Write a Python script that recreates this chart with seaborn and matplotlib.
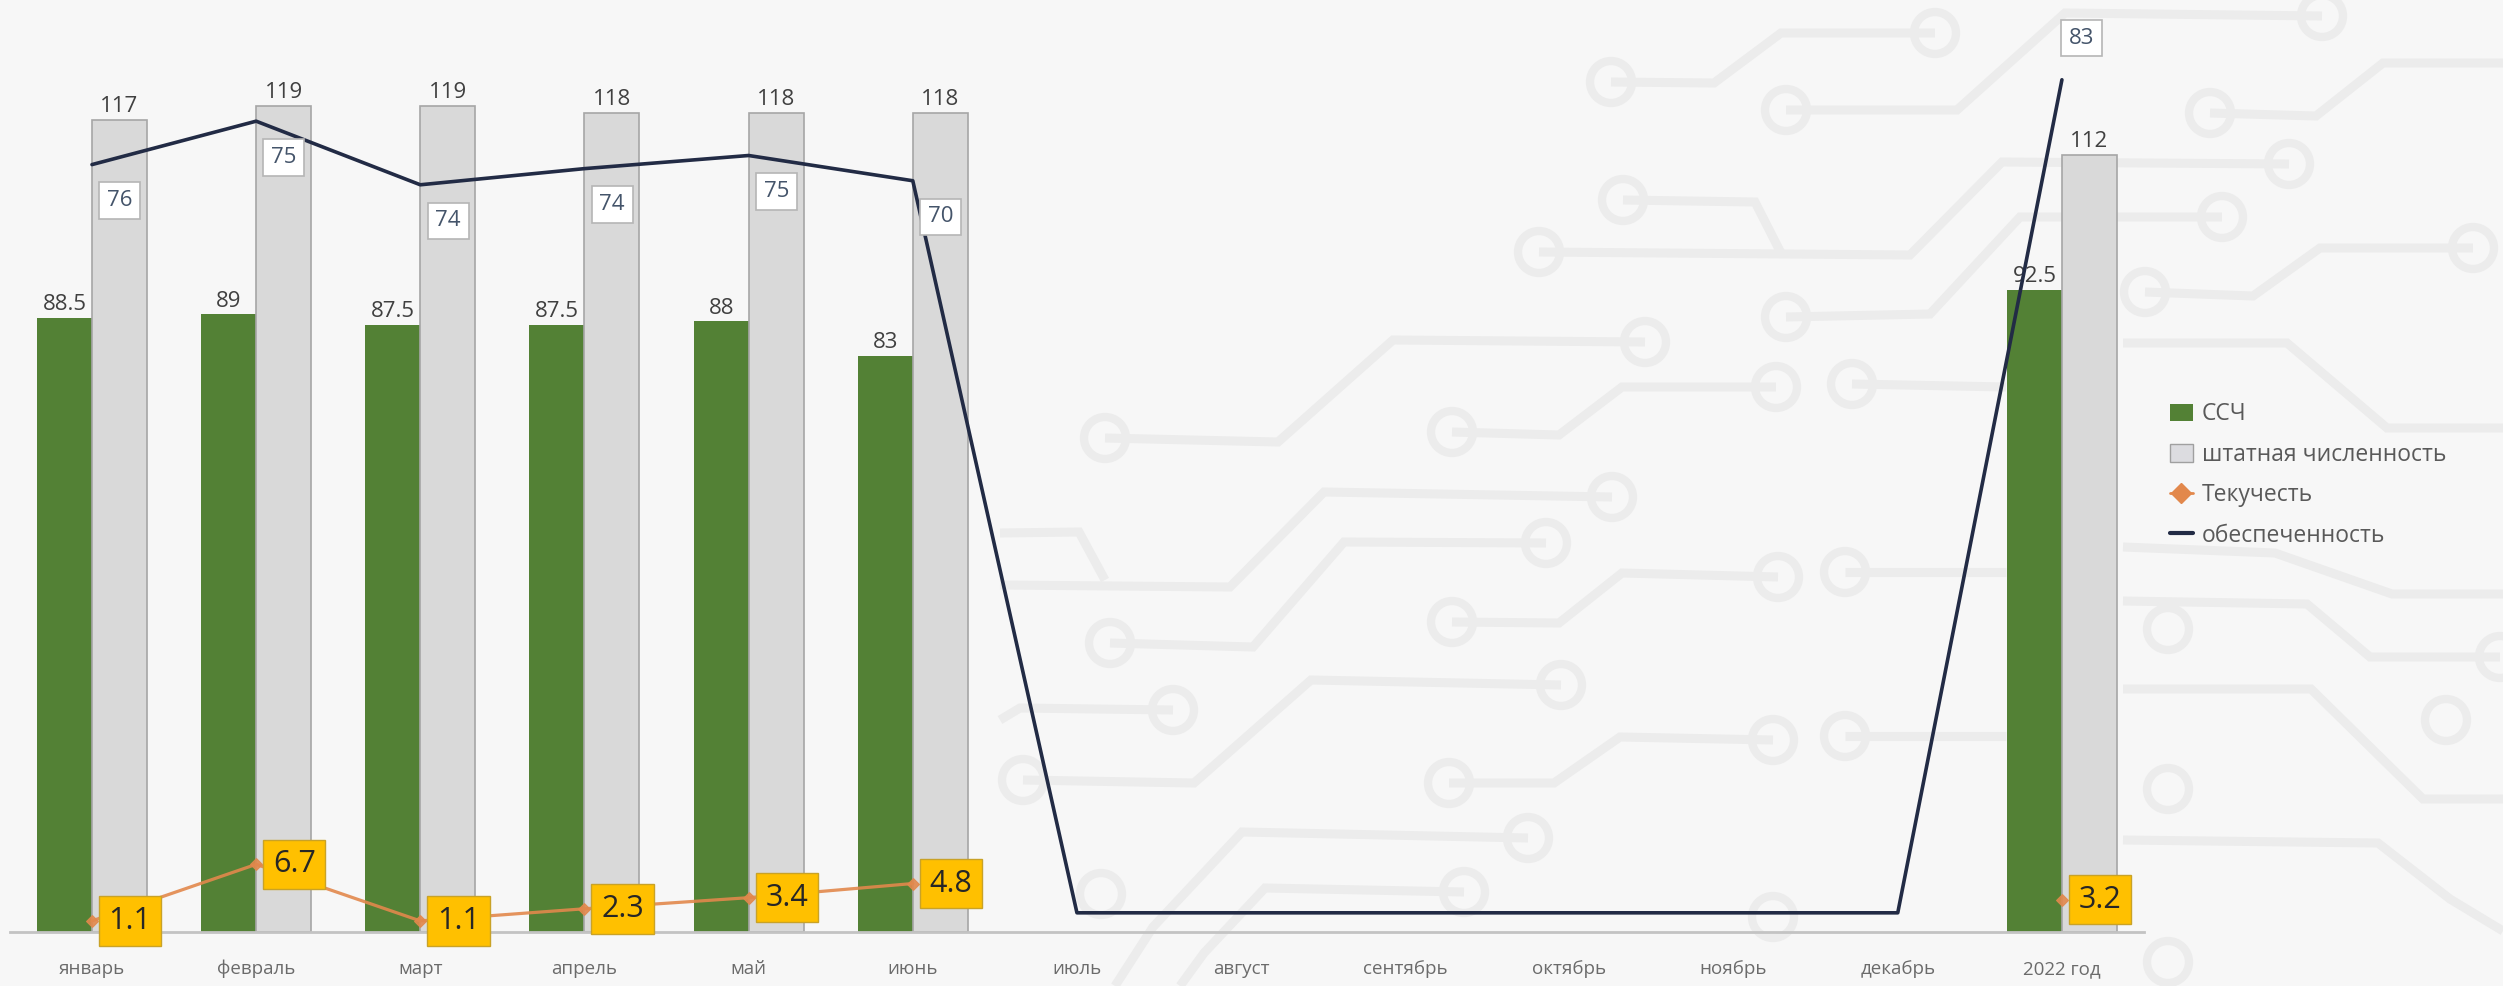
import numpy as np
import pandas as pd
import matplotlib
matplotlib.use('Agg')
import matplotlib.pyplot as plt
import seaborn as sns
from matplotlib.patches import Patch, Circle
from matplotlib.lines import Line2D

# данные
months = ['январь', 'февраль', 'март', 'апрель', 'май', 'июнь', 'июль',
          'август', 'сентябрь', 'октябрь', 'ноябрь', 'декабрь', '2022 год']
ssch = [88.5, 89, 87.5, 87.5, 88, 83, np.nan, np.nan, np.nan, np.nan, np.nan, np.nan, 92.5]
shtat = [117, 119, 119, 118, 118, 118, np.nan, np.nan, np.nan, np.nan, np.nan, np.nan, 112]
tekuch = [1.1, 6.7, 1.1, 2.3, 3.4, 4.8, np.nan, np.nan, np.nan, np.nan, np.nan, np.nan, 3.2]
obesp = [76.0, 80.3, 74.0, 75.6, 76.9, 74.4, 1.9, 1.9, 1.9, 1.9, 1.9, 1.9, 84.4]
obesp_labels = ['76', '75', '74', '74', '75', '70', '', '', '', '', '', '', '83']

series_names = ['ССЧ', 'штатная численность', 'Текучесть', 'обеспеченность']

GREEN = '#538135'
GREY = '#d9d9d9'
ORANGE = '#e2884c'
NAVY = '#222b45'
BG = '#f7f7f7'
WIRE = '#ececec'

# фоновый "печатный" узор
wires = [
    [(1611, 82), (1714, 83), (1781, 33), (1935, 33)],
    [(1786, 110), (1957, 110), (2065, 13), (2322, 16)],
    [(1623, 200), (1755, 202), (1781, 253)],
    [(1539, 252), (1910, 255), (2002, 162), (2289, 164)],
    [(1786, 317), (1930, 314), (2020, 217), (2222, 217)],
    [(2210, 113), (2316, 116), (2383, 63), (2503, 63)],
    [(2145, 292), (2253, 296), (2320, 248), (2473, 248)],
    [(2123, 343), (2287, 343), (2387, 428), (2503, 428)],
    [(1105, 438), (1278, 442), (1393, 340), (1645, 342)],
    [(1452, 432), (1559, 435), (1622, 387), (1776, 387)],
    [(1852, 384), (2006, 387)],
    [(1612, 497), (1324, 492), (1230, 587), (1000, 585)],
    [(1000, 533), (1079, 532), (1105, 580)],
    [(1546, 543), (1344, 542), (1253, 647), (1110, 643)],
    [(1778, 577), (1622, 573), (1559, 623), (1452, 622)],
    [(1561, 685), (1311, 680), (1194, 783), (1023, 780)],
    [(1173, 710), (1020, 708), (1000, 720)],
    [(1773, 740), (1620, 737), (1554, 783), (1449, 783)],
    [(1528, 838), (1242, 832), (1153, 927), (1115, 986)],
    [(1464, 892), (1265, 888), (1204, 953), (1180, 986)],
    [(1845, 572), (2006, 572)],
    [(2123, 547), (2275, 553), (2392, 594), (2503, 594)],
    [(2500, 657), (2370, 657), (2307, 604), (2123, 601)],
    [(2123, 689), (2311, 689), (2423, 799), (2503, 799)],
    [(1845, 736), (2006, 736)],
    [(2123, 840), (2378, 843), (2450, 899), (2503, 931)],
]
rings = [(1611, 82), (1935, 33), (1786, 110), (2322, 16), (1623, 200), (1539, 252),
         (2289, 164), (1786, 317), (2222, 217), (2210, 113), (2145, 292), (2473, 248),
         (1105, 438), (1645, 342), (1452, 432), (1776, 387), (1852, 384), (1612, 497),
         (1546, 543), (1110, 643), (1778, 577), (1452, 622), (1561, 685), (1023, 780),
         (1173, 710), (1773, 740), (1449, 783), (1528, 838), (1464, 892), (1773, 917),
         (1845, 572), (2500, 657), (2446, 720), (2168, 629), (1845, 736), (2168, 789),
         (2168, 962), (1101, 894)]

sns.set_style('white')
plt.rcParams['font.family'] = ['Open Sans', 'DejaVu Sans']

fig = plt.figure(figsize=(25.03, 9.86), dpi=100, facecolor=BG)

# фон
bg = fig.add_axes([0, 0, 1, 1], zorder=-1)
bg.set_xlim(0, 2503)
bg.set_ylim(986, 0)
bg.axis('off')
for w in wires:
    xs, ys = zip(*w)
    bg.plot(xs, ys, color=WIRE, lw=6.5, solid_joinstyle='miter', solid_capstyle='butt')
for (cx, cy) in rings:
    bg.add_patch(Circle((cx, cy), 21, fc=BG, ec=WIRE, lw=6))

ax = fig.add_axes([9.9 / 2503, 54 / 986, (2144 - 9.9) / 2503, 932 / 986])
ax.patch.set_alpha(0)

# столбцы
bars = pd.DataFrame({'month': months * 2,
                     'series': [series_names[0]] * 13 + [series_names[1]] * 13,
                     'value': ssch + shtat}).dropna()
sns.barplot(data=bars, x='month', y='value', hue='series', order=months,
            hue_order=series_names[:2], palette=[GREEN, GREY], width=0.67, gap=0,
            errorbar=None, saturation=1, legend=False, ax=ax, zorder=2)
for cont, ec in zip(ax.containers, ['none', '#a6a6a6']):
    for p in cont:
        p.set_edgecolor(ec)
        p.set_linewidth(1.2)
    ax.bar_label(cont, labels=[f'{v:g}' for v in cont.datavalues], padding=2,
                 fontsize=16, color='#404040')

ax.set_xlim(-0.5, 12.5)
ax.set_ylim(0, 134.3)
ax.set_yticks([])
ax.set_xlabel('')
ax.set_ylabel('')
for s in ['top', 'left', 'right']:
    ax.spines[s].set_visible(False)
ax.spines['bottom'].set_color('#c3c3c3')
ax.spines['bottom'].set_linewidth(2)

# линии на вспомогательной оси
ax2 = ax.twinx()
pos = np.arange(len(months))
sns.lineplot(x=pos, y=obesp, color=NAVY, lw=2.6, estimator=None, ax=ax2, zorder=3)

tek = pd.DataFrame({'pos': pos, 'val': tekuch})
tek['seg'] = tek['val'].isna().cumsum()
tek = tek.dropna()
sns.lineplot(data=tek, x='pos', y='val', units='seg', estimator=None, sort=False,
             color=ORANGE, lw=2.3, alpha=0.9, marker='D', markersize=6,
             markeredgecolor=ORANGE, legend=False, ax=ax2, zorder=4)

for i, v in enumerate(tekuch):
    if np.isnan(v):
        continue
    ax2.annotate(f'{v:g}', (i, v), xytext=(12, 0), textcoords='offset points',
                 ha='left', va='center', fontsize=22, color='#262626', zorder=6,
                 bbox=dict(boxstyle='square,pad=0.32', fc='#ffc000', ec='#c9a227', lw=1))

for i, (v, lbl) in enumerate(zip(obesp, obesp_labels)):
    if not lbl:
        continue
    off = (14, 30) if i == len(obesp) - 1 else (20, -26)
    ax2.annotate(lbl, (i, v), xytext=off, textcoords='offset points',
                 ha='center', va='center', fontsize=16, color='#44546a', zorder=6,
                 bbox=dict(boxstyle='square,pad=0.35', fc='white', ec='#b5b5b5', lw=1.2))

ax2.set_ylim(0, 92.3)
ax2.set_yticks([])
ax2.set_ylabel('')
ax2.set_xlabel('')
for s in ax2.spines.values():
    s.set_visible(False)

ax.set_xlim(-0.5, 12.5)
ax.set_xticks(range(len(months)), months)
ax.tick_params(axis='x', length=0, pad=20, labelsize=13.5, labelcolor='#6b6b6b')

# легенда
handles = [Patch(fc=GREEN, ec='none'),
           Patch(fc='#dcdce0', ec='#a0a0a0'),
           Line2D([], [], color=ORANGE, lw=2, marker='D', markersize=10),
           Line2D([], [], color=NAVY, lw=3)]
fig.legend(handles, series_names, loc='center left',
           bbox_to_anchor=(2170 / 2503, 1 - 475 / 986), frameon=False,
           fontsize=16.5, labelcolor='#595959', handlelength=1.0, handleheight=0.8,
           handletextpad=0.4, labelspacing=0.72, borderpad=0, borderaxespad=0)

fig.savefig('out.png', dpi=100, facecolor=BG)
